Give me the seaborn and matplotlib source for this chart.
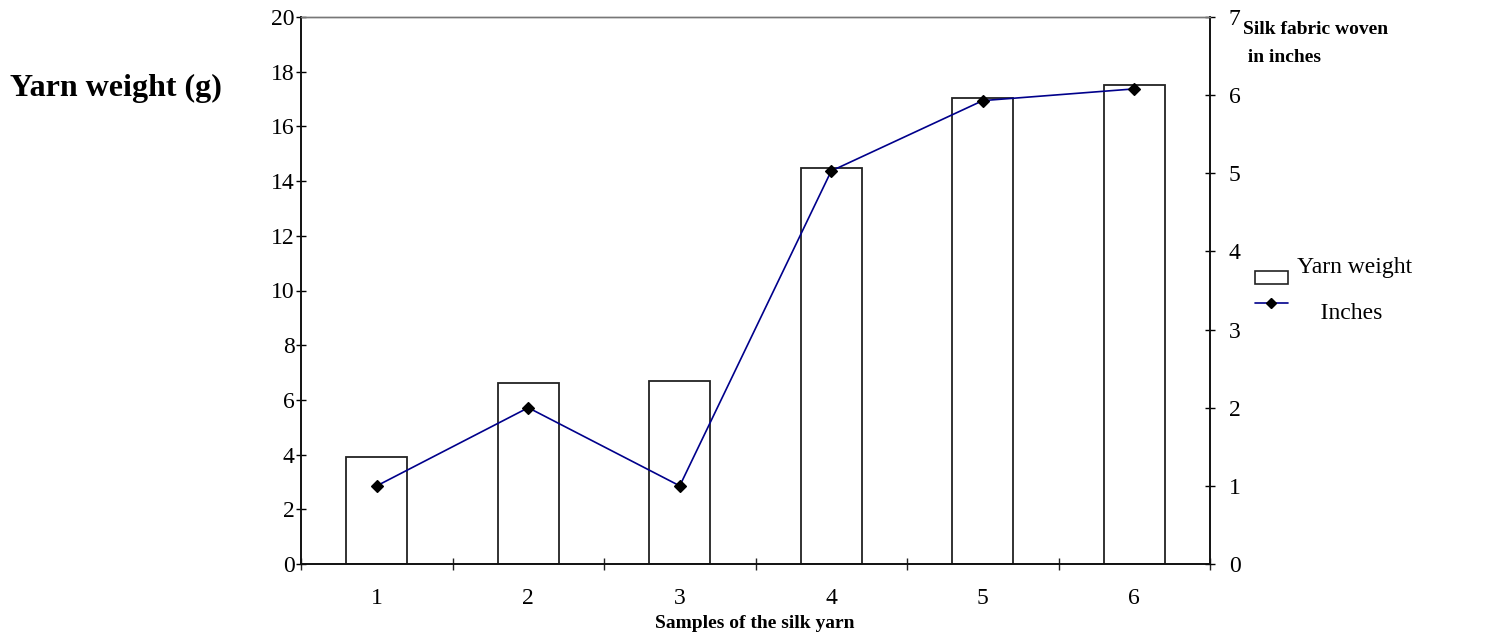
import matplotlib
matplotlib.use("Agg")
import matplotlib.pyplot as plt
import seaborn as sns
import numpy as np
import pandas as pd
from matplotlib.patches import Patch
from matplotlib.lines import Line2D
from matplotlib.legend_handler import HandlerPatch, HandlerLine2D
from matplotlib.transforms import Affine2D

samples = ["1", "2", "3", "4", "5", "6"]
yarn_weight = [3.9, 6.6, 6.7, 14.47, 17.05, 17.5]
inches = [1.0, 2.0, 1.0, 5.03, 5.93, 6.08]
left_ticks = [0, 2, 4, 6, 8, 10, 12, 14, 16, 18, 20]
right_ticks = [0, 1, 2, 3, 4, 5, 6, 7]

sns.set_style("white")
plt.rcParams['font.family'] = ['Liberation Serif', 'DejaVu Serif']
plt.rcParams['text.color'] = 'black'
plt.rcParams['xtick.color'] = 'black'
plt.rcParams['ytick.color'] = 'black'

df = pd.DataFrame({"sample": samples, "weight": yarn_weight, "inches": inches})

W, H = 1489, 640
fig = plt.figure(figsize=(W / 100, H / 100), dpi=100)
ax = fig.add_axes([301 / W, 1 - 564 / H, (1210 - 301) / W, (564 - 17) / H])

sns.barplot(data=df, x="sample", y="weight", ax=ax, color="white",
            edgecolor="#222222", linewidth=1.3, width=0.4, saturation=1,
            errorbar=None)

ax2 = ax.twinx()
sns.pointplot(data=df, x="sample", y="inches", ax=ax2, color="#00008B",
              markers="D", linestyles="-", errorbar=None,
              markersize=6, linewidth=1.2)
for ln in ax2.lines:
    ln.set_markerfacecolor("black")
    ln.set_markeredgecolor("black")

ax.set_xlim(-0.5, 5.5)
ax2.set_xlim(-0.5, 5.5)
ax.set_ylim(0, 20)
ax2.set_ylim(0, 7)
ax.set_yticks(left_ticks)
ax2.set_yticks(right_ticks)

ax.set_xlabel("")
ax.set_ylabel("")
ax2.set_ylabel("")

# x: labels at centers, tick marks at boundaries
ax.set_xticks(range(len(samples)))
ax.set_xticklabels(samples)
ax.set_xticks(np.arange(-0.5, len(samples), 1.0), minor=True)
ax.tick_params(axis="x", which="major", bottom=True, length=0, labelsize=17, pad=17,
               labelcolor="black")
ax.tick_params(axis="x", which="minor", bottom=True, length=9, width=1,
               direction="inout", color="#222222")
ax.tick_params(axis="y", which="major", left=True, length=7, width=1, direction="inout",
               labelsize=17, pad=1, labelcolor="black")
ax2.tick_params(axis="y", which="major", right=True, length=7, width=1, direction="inout",
                labelsize=17, pad=10, labelcolor="black")
ax2.tick_params(axis="x", which="both", length=0)

for a in (ax, ax2):
    for s in ("left", "bottom", "right"):
        a.spines[s].set_color("#111111")
        a.spines[s].set_linewidth(1.2)
    a.spines["top"].set_color("#777777")
    a.spines["top"].set_linewidth(1.0)

fig.text(10 / W, 1 - 88 / H, "Yarn weight (g)", fontsize=23, fontweight="bold",
         ha="left", va="center", color="black")
fig.text(1243 / W, 1 - 21 / H, "Silk fabric woven\n in inches", fontsize=14,
         fontweight="bold", ha="left", va="top", linespacing=1.85, color="black")
fig.text(755 / W, 1 - 624 / H, "Samples of the silk yarn", fontsize=14,
         fontweight="bold", ha="center", va="center", color="black")


def shifted(handler_cls, dy_pt):
    class _H(handler_cls):
        def create_artists(self, legend, orig_handle, xdescent, ydescent,
                           width, height, fontsize, trans):
            return super().create_artists(legend, orig_handle, xdescent, ydescent,
                                          width, height, fontsize,
                                          Affine2D().translate(0, dy_pt) + trans)
    return _H()


bar_handle = Patch(facecolor="white", edgecolor="#222222", linewidth=1.2)
line_handle = Line2D([0], [0], color="#00008B", marker="D", markerfacecolor="black",
                     markeredgecolor="black", markersize=5.5, linewidth=1.2)
fig.legend([bar_handle, line_handle], ["Yarn weight", "    Inches"], loc="upper left",
           bbox_to_anchor=(1243 / W, 1 - 245 / H), frameon=False, fontsize=17,
           borderpad=0, handlelength=1.4, handleheight=0.42, handletextpad=0.4,
           labelspacing=1.05,
           handler_map={bar_handle: shifted(HandlerPatch, -9.4),
                        line_handle: shifted(HandlerLine2D, 5.8)})

fig.savefig("out.png", dpi=100)
